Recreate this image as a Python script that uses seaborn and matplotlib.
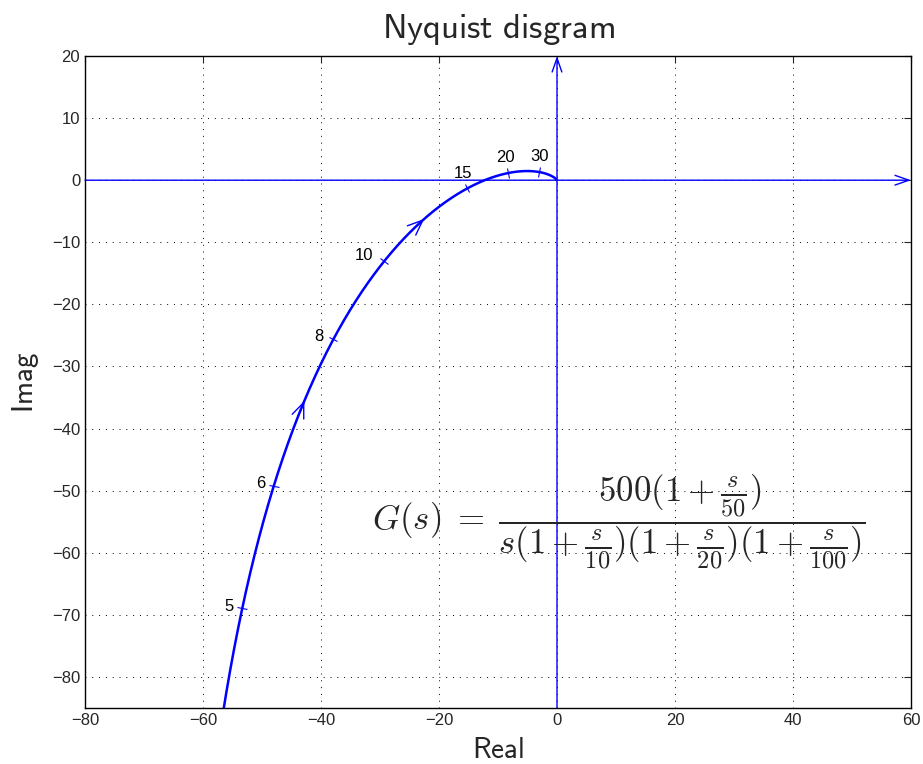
import numpy as np
import matplotlib
matplotlib.use("Agg")
import matplotlib.pyplot as plt
from matplotlib.markers import MarkerStyle
from matplotlib.transforms import Affine2D
import seaborn as sns
import pandas as pd

# Open-loop transfer function G(s) = K (1 + s/z) / (s (1 + s/p1)(1 + s/p2)(1 + s/p3))
gain = 500.0
zero_corners = [50.0]
pole_corners = [10.0, 20.0, 100.0]

# Frequencies (rad/s) that get a labelled tick on the locus
marker_freqs = [5, 6, 8, 10, 15, 20, 30]
marker_labels = ["5", "6", "8", "10", "15", "20", "30"]
# label offsets in points relative to the tick
label_offsets = [(-6, 1), (-6, 2), (-7, 2), (-8, 4), (-3, 11), (-2, 11), (0, 11)]
# Frequencies where direction arrows sit
arrow_freqs = [7.0, 12.0]

x_ticks = [-80, -60, -40, -20, 0, 20, 40, 60]
y_ticks = [-80, -70, -60, -50, -40, -30, -20, -10, 0, 10, 20]


def G(w):
    s = 1j * np.asarray(w, dtype=float)
    num = gain * np.ones_like(s)
    for z in zero_corners:
        num = num * (1 + s / z)
    den = s
    for p in pole_corners:
        den = den * (1 + s / p)
    return num / den


sns.set_style("white")
plt.rcParams["mathtext.fontset"] = "cm"
plt.rcParams["font.family"] = ["Liberation Sans", "DejaVu Sans"]

fig = plt.figure(figsize=(9.23, 7.64), dpi=100)
ax = fig.add_axes([85 / 923, 1 - 708 / 764, 826 / 923, 652 / 764])
ax.set_xlim(-80, 60)
ax.set_ylim(-85, 20)

w = np.logspace(np.log10(4.0), 4, 3000)
g = G(w)
df = pd.DataFrame({"w": w, "Real": g.real, "Imag": g.imag})
sns.lineplot(data=df, x="Real", y="Imag", sort=False, color="#0000ff",
             linewidth=1.8, ax=ax, zorder=3)

blue = "#0000ff"
# axes through the origin with arrowheads
ax.annotate("", xy=(60, 0), xytext=(-80, 0),
            arrowprops=dict(arrowstyle="->,head_length=1.0,head_width=0.35",
                            color=blue, lw=1.0, shrinkA=0, shrinkB=0), zorder=2)
ax.annotate("", xy=(0, 20), xytext=(0, -85),
            arrowprops=dict(arrowstyle="->,head_length=1.0,head_width=0.35",
                            color=blue, lw=1.0, shrinkA=0, shrinkB=0), zorder=2)

fig.canvas.draw()
to_disp = ax.transData.transform

# frequency ticks perpendicular to the locus, with labels
for f, lab, off in zip(marker_freqs, marker_labels, label_offsets):
    p0 = G(f)
    pa, pb = G(f * 0.99), G(f * 1.01)
    da = to_disp([[pa.real, pa.imag], [pb.real, pb.imag]])
    ang = np.degrees(np.arctan2(da[1, 1] - da[0, 1], da[1, 0] - da[0, 0]))
    m = MarkerStyle("|", transform=Affine2D().rotate_deg(ang))
    ax.plot([p0.real], [p0.imag], marker=m, markersize=7, color=blue,
            markeredgewidth=0.8, linestyle="none", zorder=4)
    ax.annotate(lab, xy=(p0.real, p0.imag), xytext=off, textcoords="offset points",
                ha="right" if off[0] < -5 else "center", va="center", fontsize=12,
                color="black")

# direction arrows along increasing frequency
for f in arrow_freqs:
    tip = G(f)
    tail = G(f * 0.97)
    ax.annotate("", xy=(tip.real, tip.imag), xytext=(tail.real, tail.imag),
                arrowprops=dict(arrowstyle="->,head_length=1.1,head_width=0.45",
                                color=blue, lw=1.0, shrinkA=0, shrinkB=0), zorder=4)

ax.set_xticks(x_ticks)
ax.set_yticks(y_ticks)
ax.set_xticklabels([str(v).replace("-", "\u2212") for v in x_ticks], fontsize=12)
ax.set_yticklabels([str(v).replace("-", "\u2212") for v in y_ticks], fontsize=12)
ax.tick_params(direction="in", length=5, top=True, right=True, width=0.8)
ax.grid(True, linestyle=(0, (1, 6)), color="black", linewidth=0.7)
for sp in ax.spines.values():
    sp.set_linewidth(1.0)
    sp.set_color("black")

ax.set_title(r"$\mathsf{Nyquist\ disgram}$", fontsize=25, pad=13)
ax.set_xlabel(r"$\mathsf{Real}$", fontsize=21, labelpad=6)
ax.set_ylabel(r"$\mathsf{Imag}$", fontsize=21, labelpad=8)

ax.text(10.5, -55,
        r"$G(s)\;=\;\dfrac{500(1+\frac{s}{50})}{s(1+\frac{s}{10})(1+\frac{s}{20})(1+\frac{s}{100})}$",
        fontsize=25, ha="center", va="center", zorder=5)

fig.savefig("out.png", dpi=100)
